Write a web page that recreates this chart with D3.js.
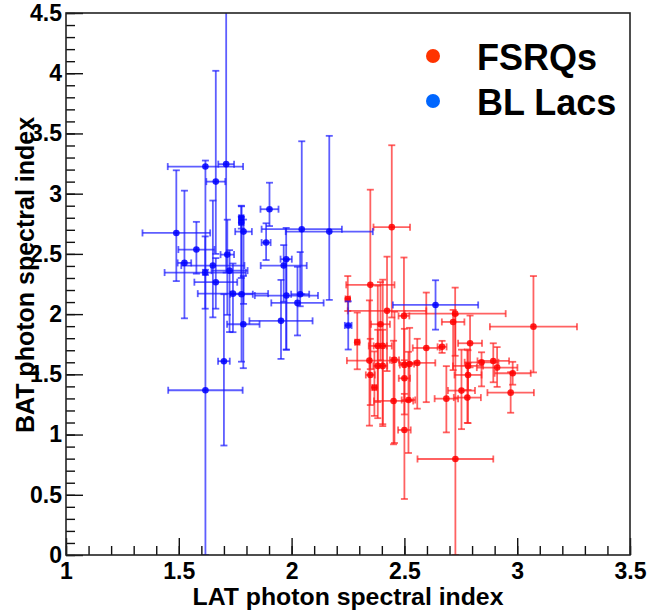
<!DOCTYPE html>
<html>
<head>
<meta charset="utf-8">
<script src="https://cdn.jsdelivr.net/npm/d3@7"></script>
<style>
  body { margin: 0; background: #fff; }
  svg { display: block; }
  text { font-family: "Liberation Sans", Arial, Helvetica, sans-serif; font-weight: bold; }
</style>
</head>
<body>
<svg id="chart" width="648" height="610"></svg>
<script>
// FSRQs: LAT index, BAT index, x error, y error up, y error down
var fsrqX  = [2.444, 2.349, 2.249, 2.423, 2.498, 2.394, 2.725, 2.716, 3.072, 2.791, 2.291, 2.382, 2.404, 2.597, 2.667, 2.345, 2.456, 2.382, 2.404, 2.349, 2.367, 2.500, 2.523, 2.557, 2.500, 2.452, 2.518, 2.500, 2.686, 2.726, 2.753, 2.779, 2.782, 2.782, 2.842, 2.894, 2.911, 2.980, 2.971];
var fsrqY  = [2.722, 2.243, 2.126, 2.027, 1.985, 1.916, 2.004, 1.935, 1.896, 1.758, 1.767, 1.736, 1.736, 1.719, 1.728, 1.614, 1.620, 1.570, 1.570, 1.495, 1.390, 1.578, 1.586, 1.595, 1.467, 1.279, 1.287, 1.038, 1.298, 0.797, 1.365, 1.307, 1.570, 1.495, 1.600, 1.611, 1.556, 1.509, 1.348];
var fsrqXe = [0.081, 0.107, 0.010, 0.174, 0.024, 0.042, 0.224, 0.050, 0.193, 0.053, 0.010, 0.040, 0.040, 0.060, 0.020, 0.100, 0.020, 0.020, 0.020, 0.020, 0.010, 0.020, 0.020, 0.080, 0.025, 0.087, 0.030, 0.028, 0.052, 0.168, 0.060, 0.060, 0.067, 0.060, 0.075, 0.070, 0.090, 0.080, 0.103];
var fsrqYu = [0.680, 0.790, 0.190, 0.450, 0.485, 0.350, 0.216, 0.100, 0.420, 0.230, 0.246, 0.500, 0.550, 0.460, 0.050, 0.500, 0.400, 0.300, 0.300, 0.300, 0.300, 0.300, 0.300, 0.200, 0.150, 0.500, 0.400, 0.300, 0.270, 1.200, 0.340, 0.400, 0.130, 0.100, 0.083, 0.147, 0.170, 0.095, 0.170];
var fsrqYd = [0.750, 0.700, 0.100, 0.500, 0.400, 0.300, 0.350, 0.400, 0.380, 0.200, 0.225, 0.600, 0.650, 0.450, 0.050, 0.540, 0.690, 0.300, 0.500, 0.250, 0.235, 0.300, 0.300, 0.380, 0.300, 0.360, 0.440, 0.573, 0.280, 0.797, 0.320, 0.210, 0.200, 0.400, 0.200, 0.177, 0.160, 0.095, 0.167];

// BL Lacs
var bllX  = [1.618, 1.710, 1.664, 1.489, 1.578, 1.525, 1.651, 1.617, 1.664, 1.715, 1.725, 1.777, 1.777, 1.787, 1.902, 1.887, 2.045, 2.167, 1.976, 1.965, 1.740, 1.778, 1.977, 2.026, 2.038, 1.953, 1.786, 1.700, 1.618, 2.251, 2.638];
var bllY  = [3.225, 3.245, 3.100, 2.674, 2.536, 2.425, 2.403, 2.345, 2.265, 2.494, 2.361, 2.800, 2.760, 2.685, 2.871, 2.594, 2.705, 2.685, 2.456, 2.403, 2.170, 2.165, 2.154, 2.093, 2.165, 1.944, 1.916, 1.609, 1.368, 1.906, 2.076];
var bllXe = [0.167, 0.035, 0.042, 0.150, 0.080, 0.030, 0.140, 0.180, 0.095, 0.030, 0.080, 0.010, 0.010, 0.037, 0.040, 0.020, 0.178, 0.193, 0.025, 0.102, 0.156, 0.050, 0.140, 0.116, 0.040, 0.140, 0.072, 0.026, 0.165, 0.015, 0.189];
var bllYu = [0.050, 1.400, 0.920, 0.520, 0.230, 0.600, 0.540, 0.300, 0.200, 0.290, 0.170, 0.100, 0.050, 0.100, 0.220, 0.160, 0.730, 0.795, 0.260, 0.170, 0.250, 0.730, 0.300, 0.300, 0.350, 0.340, 0.400, 0.556, 1.000, 0.200, 0.205];
var bllYd = [0.900, 0.900, 0.600, 0.400, 0.200, 0.460, 0.430, 0.300, 0.220, 0.500, 0.510, 0.500, 0.050, 0.600, 0.140, 0.145, 0.540, 0.567, 0.750, 0.300, 0.320, 0.560, 0.450, 0.270, 0.100, 0.316, 0.365, 0.700, 1.368, 0.200, 0.205];

var xTicks = [1, 1.5, 2, 2.5, 3, 3.5];
var yTicks = [0, 0.5, 1, 1.5, 2, 2.5, 3, 3.5, 4, 4.5];
var seriesNames = ["FSRQs", "BL Lacs"];

var svg = d3.select("#chart");
var padLeft = 66, padRight = 630, padTop = 13, padBottom = 555;

var x = d3.scaleLinear().domain([1, 3.5]).range([padLeft, padRight]);
var y = d3.scaleLinear().domain([0, 4.5]).range([padBottom, padTop]);

svg.append("clipPath").attr("id", "plotclip")
    .append("rect")
    .attr("x", padLeft).attr("y", padTop)
    .attr("width", padRight - padLeft).attr("height", padBottom - padTop);

function toRows(xs, ys, xe, yu, yd) {
    return xs.map(function (v, i) {
        return { x: v, y: ys[i], xe: xe[i], yu: yu[i], yd: yd[i] };
    });
}

var series = [
    { rows: toRows(fsrqX, fsrqY, fsrqXe, fsrqYu, fsrqYd), line: "#ff2020", mark: "#ff0000" },
    { rows: toRows(bllX, bllY, bllXe, bllYu, bllYd), line: "#1a1aff", mark: "#0000ff" }
];

var plot = svg.append("g").attr("clip-path", "url(#plotclip)");
var cap = 3.5;

series.forEach(function (s) {
    var g = plot.append("g")
        .attr("stroke", s.line)
        .attr("stroke-opacity", 0.7)
        .attr("stroke-width", 1.8)
        .attr("fill", "none");

    var pts = g.selectAll("g.pt").data(s.rows).enter().append("g").attr("class", "pt");

    // vertical error
    pts.append("line")
        .attr("x1", d => x(d.x)).attr("x2", d => x(d.x))
        .attr("y1", d => y(d.y + d.yu)).attr("y2", d => y(d.y - d.yd));
    pts.append("line")
        .attr("x1", d => x(d.x) - cap).attr("x2", d => x(d.x) + cap)
        .attr("y1", d => y(d.y + d.yu)).attr("y2", d => y(d.y + d.yu));
    pts.append("line")
        .attr("x1", d => x(d.x) - cap).attr("x2", d => x(d.x) + cap)
        .attr("y1", d => y(d.y - d.yd)).attr("y2", d => y(d.y - d.yd));

    // horizontal error
    pts.append("line")
        .attr("x1", d => x(d.x - d.xe)).attr("x2", d => x(d.x + d.xe))
        .attr("y1", d => y(d.y)).attr("y2", d => y(d.y));
    pts.append("line")
        .attr("x1", d => x(d.x - d.xe)).attr("x2", d => x(d.x - d.xe))
        .attr("y1", d => y(d.y) - cap).attr("y2", d => y(d.y) + cap);
    pts.append("line")
        .attr("x1", d => x(d.x + d.xe)).attr("x2", d => x(d.x + d.xe))
        .attr("y1", d => y(d.y) - cap).attr("y2", d => y(d.y) + cap);

    plot.append("g").selectAll("circle").data(s.rows).enter()
        .append("circle")
        .attr("cx", d => x(d.x)).attr("cy", d => y(d.y))
        .attr("r", 3.3)
        .attr("fill", s.mark)
        .attr("fill-opacity", 0.85);
});

// axes: minor ticks then major ticks with labels
var minorX = d3.range(1, 3.5001, 0.1);
var minorY = d3.range(0, 4.5001, 0.1);

svg.append("g")
    .attr("class", "xAxis")
    .attr("transform", "translate(0," + padBottom + ")")
    .call(d3.axisBottom(x).tickValues(minorX).tickSize(-9).tickFormat(""));
svg.append("g")
    .attr("class", "xAxis")
    .attr("transform", "translate(0," + padBottom + ")")
    .call(d3.axisBottom(x).tickValues(xTicks).tickSize(-17).tickPadding(24).tickFormat(d3.format("")));

svg.append("g")
    .attr("class", "yAxis")
    .attr("transform", "translate(" + padLeft + ",0)")
    .call(d3.axisLeft(y).tickValues(minorY).tickSize(-9).tickFormat(""));
svg.append("g")
    .attr("class", "yAxis")
    .attr("transform", "translate(" + padLeft + ",0)")
    .call(d3.axisLeft(y).tickValues(yTicks).tickSize(-17).tickPadding(4).tickFormat(d3.format("")));

svg.selectAll(".xAxis path, .yAxis path").remove();
svg.selectAll(".xAxis line, .yAxis line").attr("stroke", "#111").attr("stroke-width", 1.4);
svg.selectAll(".xAxis text, .yAxis text")
    .attr("fill", "#000")
    .style("font-size", "23px");
svg.selectAll(".xAxis text").attr("dy", "0");

// frame
svg.append("rect")
    .attr("x", padLeft).attr("y", padTop)
    .attr("width", padRight - padLeft).attr("height", padBottom - padTop)
    .attr("fill", "none")
    .attr("stroke", "#222")
    .attr("stroke-width", 1.6);

// axis titles
svg.append("text")
    .attr("x", (padLeft + padRight) / 2).attr("y", 605)
    .attr("text-anchor", "middle")
    .style("font-size", "24.8px")
    .text("LAT photon spectral index");

svg.append("text")
    .attr("transform", "translate(34," + ((padTop + padBottom) / 2 - 9) + ") rotate(-90)")
    .attr("text-anchor", "middle")
    .style("font-size", "25px")
    .text("BAT photon spectral index");

// legend
var legendColors = ["#ff3300", "#0066ff"];
var legendY = [56, 101];
seriesNames.forEach(function (name, i) {
    svg.append("circle")
        .attr("cx", 433).attr("cy", legendY[i])
        .attr("r", 7)
        .attr("fill", legendColors[i]);
    svg.append("text")
        .attr("x", 477).attr("y", legendY[i] + 14)
        .style("font-size", "36px")
        .text(name);
});
</script>
</body>
</html>
